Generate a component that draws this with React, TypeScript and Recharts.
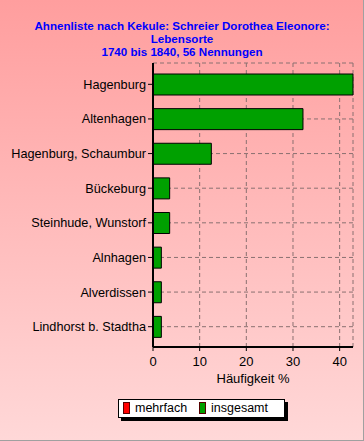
import React from 'react';
import { BarChart, Bar, XAxis, YAxis, CartesianGrid } from 'recharts';

const places = [
  'Hagenburg',
  'Altenhagen',
  'Hagenburg, Schaumbur',
  'Bückeburg',
  'Steinhude, Wunstorf',
  'Alnhagen',
  'Alverdissen',
  'Lindhorst b. Stadtha',
];
const insgesamt = [42.86, 32.14, 12.5, 3.57, 3.57, 1.79, 1.79, 1.79];
const mehrfach = [0, 0, 0, 0, 0, 0, 0, 0];
const xTicks = [0, 10, 20, 30, 40];
const titleLines = [
  'Ahnenliste nach Kekule: Schreier Dorothea Eleonore:',
  'Lebensorte',
  '1740 bis 1840, 56 Nennungen',
];
const xLabel = 'Häufigkeit %';
const seriesNames = ['mehrfach', 'insgesamt'];
const seriesColors = ['#ff0000', '#00a000'];

const data = places.map((name, i) => ({
  name,
  mehrfach: mehrfach[i],
  insgesamt: insgesamt[i],
}));
const xMax = Math.max(...insgesamt);
const minorStep = 1.25;
const minorTicks: number[] = [];
for (let v = 0; v <= xMax; v += minorStep) minorTicks.push(v);

const FONT = '"Liberation Sans", Arial, sans-serif';

export default function App() {
  return (
    <div
      style={{
        position: 'absolute',
        left: 0,
        top: 0,
        width: 364,
        height: 441,
        background: 'linear-gradient(to bottom, #ff9e9e 0%, #ffd8d8 100%)',
        boxShadow: 'inset -1px -1px 0 #a0a0a0',
        fontFamily: FONT,
        overflow: 'hidden',
      }}
    >
      <div
        style={{
          position: 'absolute',
          left: 0,
          top: 18.6,
          width: 364,
          textAlign: 'center',
          fontFamily: FONT,
          fontWeight: 'bold',
          fontSize: 11.6,
          lineHeight: '13.3px',
          color: '#0000ff',
        }}
      >
        {titleLines.map((t, i) => (
          <div key={i}>{t}</div>
        ))}
      </div>

      <BarChart
        width={364}
        height={441}
        layout="vertical"
        data={data}
        margin={{ top: 63, right: 11, bottom: 64, left: 0 }}
        style={{ position: 'absolute', left: 0, top: 0 }}
      >
        <CartesianGrid
          stroke="#8a7070"
          strokeDasharray="4 3"
          vertical={true}
          horizontal={true}
        />
        <XAxis
          xAxisId="minor"
          type="number"
          domain={[0, xMax]}
          ticks={minorTicks}
          height={0}
          axisLine={false}
          tickSize={2}
          tickLine={{ stroke: '#907070' }}
          tick={() => <g />}
          interval={0}
        />
        <XAxis
          type="number"
          domain={[0, xMax]}
          ticks={xTicks}
          interval={0}
          height={30}
          tickSize={4}
          tickMargin={6}
          axisLine={{ stroke: '#000', strokeWidth: 2 }}
          tickLine={{ stroke: '#000' }}
          tick={{ fill: '#000', fontSize: 13, fontFamily: FONT }}
          label={{
            value: xLabel,
            position: 'insideBottom',
            offset: -6,
            fill: '#000',
            fontSize: 13,
            fontFamily: FONT,
          }}
        />
        <XAxis
          xAxisId="top"
          orientation="top"
          type="number"
          domain={[0, xMax]}
          height={0}
          tick={false}
          tickLine={false}
          axisLine={{ stroke: '#000' }}
        />
        <YAxis
          type="category"
          dataKey="name"
          width={153}
          interval={0}
          tickSize={5}
          tickMargin={2}
          padding={{ top: 4, bottom: 3 }}
          axisLine={{ stroke: '#000', strokeWidth: 2 }}
          tickLine={{ stroke: '#000' }}
          tick={{ fill: '#000', fontSize: 12.7, fontFamily: FONT }}
        />
        <YAxis
          yAxisId="right"
          orientation="right"
          type="category"
          dataKey="name"
          width={0}
          tick={false}
          tickLine={false}
          axisLine={{ stroke: '#000' }}
        />
        <Bar
          dataKey="mehrfach"
          name={seriesNames[0]}
          stackId="a"
          fill={seriesColors[0]}
          stroke="#000"
          barSize={21}
          isAnimationActive={false}
        />
        <Bar
          dataKey="insgesamt"
          name={seriesNames[1]}
          stackId="a"
          fill={seriesColors[1]}
          stroke="#000"
          barSize={21}
          isAnimationActive={false}
        />
      </BarChart>

      <div
        style={{
          position: 'absolute',
          left: 118,
          top: 399,
          width: 167,
          height: 19,
          boxSizing: 'border-box',
          border: '1px solid #000',
          background: '#fff',
          boxShadow: '3px 3px 0 #000',
          fontFamily: FONT,
          fontSize: 12.5,
          lineHeight: '17px',
          color: '#000',
        }}
      >
        {seriesNames.map((n, i) => (
          <React.Fragment key={n}>
            <span
              style={{
                position: 'absolute',
                left: 4 + i * 76,
                top: 2,
                width: 7,
                height: 12,
                boxSizing: 'border-box',
                background: seriesColors[i],
                border: '1px solid #500',
              }}
            />
            <span style={{ position: 'absolute', left: 16 + i * 76, top: 0 }}>{n}</span>
          </React.Fragment>
        ))}
      </div>
    </div>
  );
}
